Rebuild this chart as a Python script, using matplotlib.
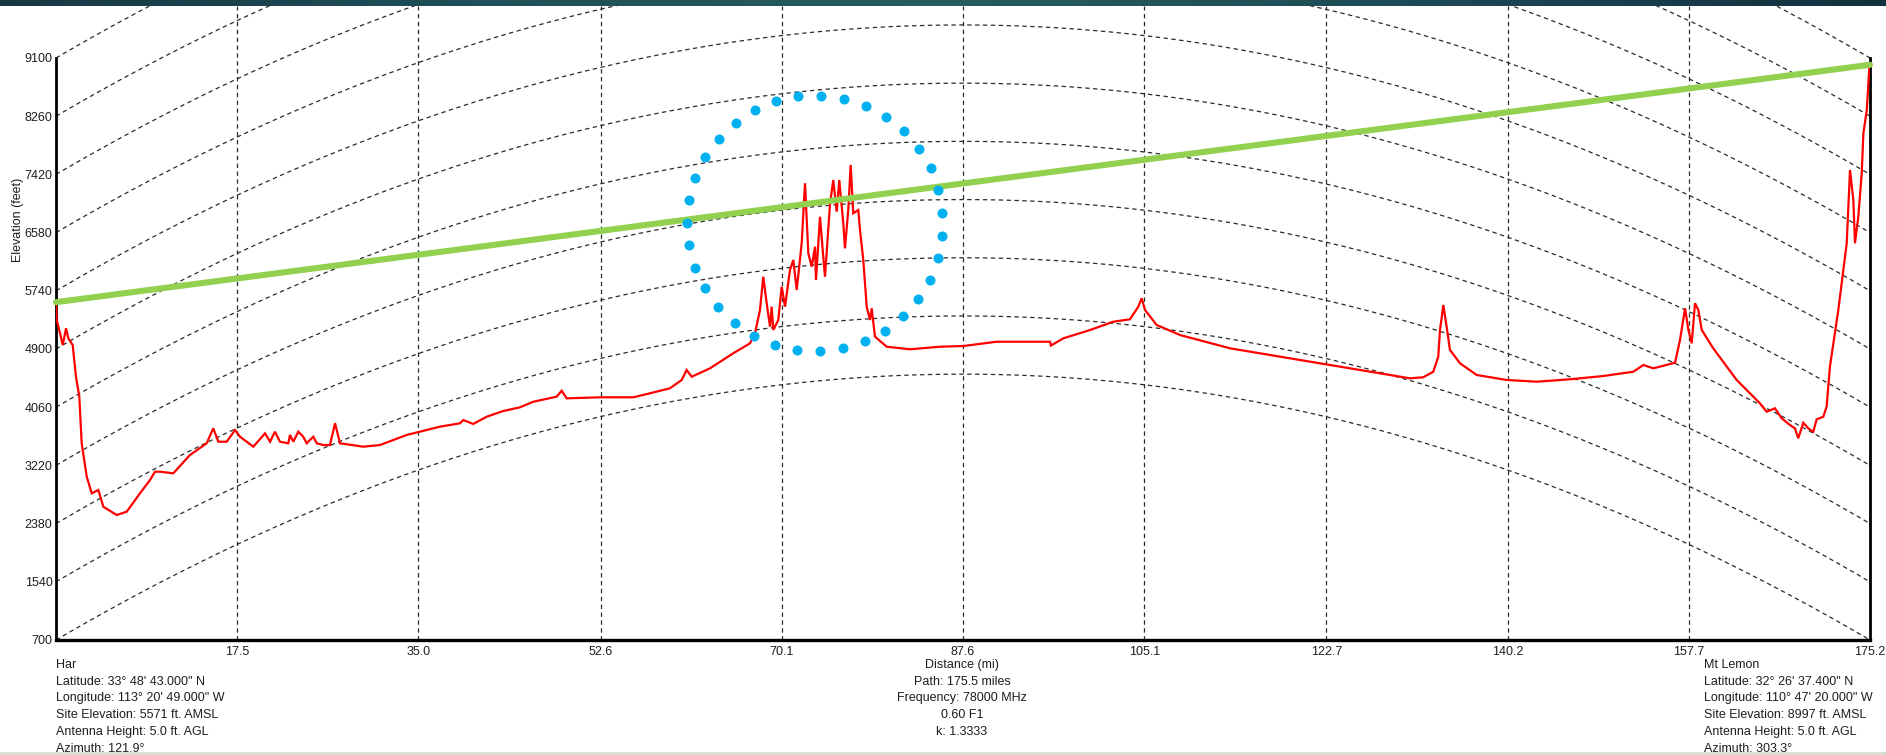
import numpy as np
import matplotlib
matplotlib.use("Agg")
import matplotlib.pyplot as plt
from matplotlib.colors import LinearSegmentedColormap

plt.rcParams['font.family'] = ['Liberation Sans', 'DejaVu Sans']

# ---------------- data ----------------
path_len = 175.2
k_factor = 1.3333
x_ticks = [17.5, 35.0, 52.6, 70.1, 87.6, 105.1, 122.7, 140.2, 157.7, 175.2]
x_tick_labels = ["17.5", "35.0", "52.6", "70.1", "87.6", "105.1", "122.7", "140.2", "157.7", "175.2"]
y_ticks = [700, 1540, 2380, 3220, 4060, 4900, 5740, 6580, 7420, 8260, 9100]

profile_dist = [0.0, 0.07, 0.39, 0.65, 0.97, 1.19, 1.61, 1.93, 2.25, 2.48, 2.97, 3.45, 4.09, 4.57, 5.86,
                6.83, 8.11, 9.08, 9.56, 10.04, 11.33, 12.94, 14.55, 15.19, 15.68, 16.49, 17.29, 17.77,
                19.06, 20.19, 20.67, 21.15, 21.63, 22.44, 22.60, 22.92, 23.40, 23.88, 24.21, 24.85,
                25.18, 25.82, 26.46, 26.95, 27.43, 29.68, 31.29, 33.87, 37.09, 39.02, 39.34, 40.30,
                41.60, 43.20, 44.80,
                46.10, 48.36, 48.84, 49.32, 52.54, 55.76, 57.37, 59.30, 60.43, 60.91, 61.40, 63.16,
                65.41, 67.03, 67.51, 67.99, 68.31, 68.64, 68.96, 69.12, 69.28, 69.76, 70.09, 70.41,
                70.89, 71.21, 71.54, 72.02, 72.34, 72.66, 72.99, 73.31, 73.40, 73.79, 74.05, 74.27,
                74.76, 75.07, 75.40, 75.65, 76.04, 76.20, 76.52, 76.75, 77.00, 77.49, 77.65, 77.97,
                78.30, 78.62, 78.78, 79.10, 80.23, 82.48, 85.38,
                87.63, 90.85, 94.07, 96.00, 96.10, 97.29, 99.87, 102.12, 103.73, 104.53, 104.86,
                105.18, 106.31, 108.56, 113.39, 118.22, 123.05, 127.88, 130.77, 132.06, 133.02,
                133.50, 133.67, 133.99, 134.31, 134.63,
                135.60, 137.21, 140.11, 143.01, 146.23, 149.44, 152.34, 153.31, 154.27, 156.37,
                156.85, 157.34, 157.66, 157.98, 158.30, 158.62, 158.95, 160.06, 162.32, 164.57,
                165.22, 166.02, 166.67, 167.47, 167.95, 168.27, 168.76, 169.24, 169.72, 170.05,
                170.69, 171.01, 171.33, 171.81, 172.14, 172.62, 172.95, 173.27, 173.59, 173.75,
                174.07, 174.40, 174.56, 174.89, 175.14, 175.2]
profile_elev = [5571, 5319, 5127, 4958, 5199, 5054, 4958, 4500, 4212, 3539, 3057, 2817, 2865, 2624, 2504,
                2552, 2817, 3009, 3129, 3129, 3106, 3370, 3539, 3755, 3562, 3562, 3731, 3634,
                3490, 3683, 3562, 3706, 3562, 3539, 3659, 3562, 3706, 3634, 3539, 3634,
                3539, 3514, 3514, 3828, 3539, 3490, 3514, 3659, 3779, 3828, 3875, 3818,
                3923, 4005, 4058,
                4139, 4212, 4298, 4188, 4203, 4203, 4261, 4333, 4453, 4597, 4500, 4621,
                4838, 4982, 5127, 5463, 5943, 5560, 5222, 5511, 5174, 5319, 5799, 5511,
                6040, 6185, 5752, 6426, 7292, 6281, 6088, 6377, 5896, 6809, 6329, 5943,
                7003, 7339, 6882, 7339, 6714, 6353, 6906, 7556, 6859, 6906, 6618, 6185,
                5511, 5319, 5487, 5078, 4933, 4896, 4933,
                4943, 5005, 5005, 5005, 4950, 5054, 5174, 5294, 5329, 5511, 5632,
                5463, 5246, 5102, 4910, 4789, 4669, 4549, 4477, 4492, 4572,
                4789, 5174, 5535, 5222, 4886,
                4694, 4525, 4453, 4428, 4463, 4510, 4572, 4669, 4621, 4702,
                5030, 5487, 5174, 4982, 5560, 5463, 5174, 4910, 4453, 4116,
                3995, 4044, 3900, 3803, 3755, 3611, 3836, 3755, 3706, 3885,
                3923, 4067, 4645, 5127, 5463, 6040, 6426, 7484, 7051, 6426,
                6809, 7436, 8013, 8349, 8974, 8997]

los_dist = [0.0, 175.2]
los_elev = [5576, 9002]

# highlighted obstruction (dotted circle annotation)
circle_center_dist = 73.3
circle_center_elev = 6714
circle_radius_dist = 12.36
circle_radius_elev = 1847
circle_dots = 35

left_site = ["Har", "Latitude: 33\u00b0 48' 43.000\" N", "Longitude: 113\u00b0 20' 49.000\" W",
             "Site Elevation: 5571 ft. AMSL", "Antenna Height: 5.0 ft. AGL", "Azimuth: 121.9\u00b0"]
center_info = ["Distance (mi)", "Path: 175.5 miles", "Frequency: 78000 MHz", "0.60 F1", "k: 1.3333"]
right_site = ["Mt Lemon", "Latitude: 32\u00b0 26' 37.400\" N", "Longitude: 110\u00b0 47' 20.000\" W",
              "Site Elevation: 8997 ft. AMSL", "Antenna Height: 5.0 ft. AGL", "Azimuth: 303.3\u00b0"]

# ---------------- figure ----------------
W, H = 1886, 755
fig = plt.figure(figsize=(W / 100, H / 100), dpi=100)
fig.patch.set_facecolor('white')

ax_l, ax_r, ax_t, ax_b = 56, 1870, 6, 640
ax = fig.add_axes([ax_l / W, 1 - ax_b / H, (ax_r - ax_l) / W, (ax_b - ax_t) / H])
ymin = 700
ymax = 9100 + (58 - 6) * (8400 / 582)
ax.set_xlim(0, path_len)
ax.set_ylim(ymin, ymax)
ax.set_facecolor('white')

grid_color = '#2a2a2a'
dash = (0, (3.5, 2.8))

# earth-curvature reference arcs
xs = np.linspace(0, path_len, 600)
bulge = xs * (path_len - xs) / (1.5 * k_factor)
for t in y_ticks:
    ax.plot(xs, t + bulge, color=grid_color, lw=0.9, linestyle=dash, zorder=1)

# vertical grid lines
for xt in x_ticks:
    top = 9100 if xt == x_ticks[-1] else ymax
    ax.plot([xt, xt], [ymin, top], color=grid_color, lw=0.9, linestyle=dash, zorder=1)

# terrain profile
ax.plot(profile_dist, profile_elev, color='#ff0000', lw=1.6, zorder=3, solid_joinstyle='miter')

# line of sight
ax.plot(los_dist, los_elev, color='#92d050', lw=4.4, solid_capstyle='round', zorder=4, clip_on=False)

# dotted circle
ang = np.deg2rad(2.9 + np.arange(circle_dots) * 360.0 / circle_dots)
cx = circle_center_dist + circle_radius_dist * np.sin(ang)
cy = circle_center_elev + circle_radius_elev * np.cos(ang)
ax.scatter(cx, cy, s=52, color='#00b0f0', linewidths=0, zorder=5)

# spines
for s in ['top']:
    ax.spines[s].set_visible(False)
for s in ['left', 'right']:
    ax.spines[s].set_bounds(700, 9100)
    ax.spines[s].set_linewidth(2.0)
    ax.spines[s].set_color('black')
ax.spines['bottom'].set_linewidth(2.4)
ax.spines['bottom'].set_color('black')

ax.set_yticks(y_ticks)
ax.set_yticklabels([str(v) for v in y_ticks])
ax.set_xticks(x_ticks)
ax.set_xticklabels(x_tick_labels)
ax.tick_params(axis='y', length=0, pad=2.5, labelsize=9, labelcolor='#1e1e1e')
ax.tick_params(axis='x', length=0, pad=4, labelsize=9, labelcolor='#1e1e1e')

fig.text(18 / W, 1 - 220 / H, "Elevation (feet)", rotation=90, ha='center', va='center',
         fontsize=9, color='#1e1e1e')

# info text blocks
line_y = [665, 682, 698.5, 715.5, 732, 748.5]
for i, s in enumerate(left_site):
    fig.text(56 / W, 1 - line_y[i] / H, s, ha='left', va='center', fontsize=9, color='#1e1e1e')
for i, s in enumerate(right_site):
    fig.text(1704 / W, 1 - line_y[i] / H, s, ha='left', va='center', fontsize=9, color='#1e1e1e')
for i, s in enumerate(center_info):
    fig.text(962 / W, 1 - line_y[i] / H, s, ha='center', va='center', fontsize=9, color='#1e1e1e')

# top band with gradient
band = fig.add_axes([0, 1 - 6 / H, 1, 6 / H], zorder=10)
cmap = LinearSegmentedColormap.from_list('band', ['#163845', '#1f4f58', '#265d60', '#1d4a55', '#12313f'])
band.imshow(np.linspace(0, 1, 256)[None, :], aspect='auto', cmap=cmap, extent=[0, 1, 0, 1])
band.set_axis_off()

# bottom light strip
strip = fig.add_axes([0, 0, 1, 3 / H], zorder=10)
strip.set_facecolor('#dcdcd6')
strip.set_xticks([])
strip.set_yticks([])
for s in strip.spines.values():
    s.set_visible(False)

fig.savefig('out.png', dpi=100)
